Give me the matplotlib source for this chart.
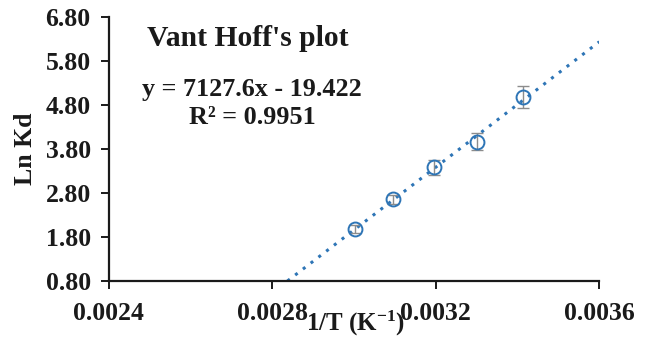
import matplotlib
matplotlib.use("Agg")
import matplotlib.pyplot as plt
import numpy as np

# Van 't Hoff data: inverse temperature vs. ln Kd
inv_T = [0.003003, 0.003096, 0.003195, 0.003300, 0.003413]
ln_kd = [1.98, 2.66, 3.38, 3.97, 4.99]
ln_kd_err = [0.09, 0.10, 0.16, 0.19, 0.25]

slope = 7127.6
intercept = -19.422
r_squared = 0.9951

x_ticks = [0.0024, 0.0028, 0.0032, 0.0036]
x_tick_labels = ["0.0024", "0.0028", "0.0032", "0.0036"]
y_ticks = [0.80, 1.80, 2.80, 3.80, 4.80, 5.80, 6.80]
y_tick_labels = ["0.80", "1.80", "2.80", "3.80", "4.80", "5.80", "6.80"]

plt.rcParams["font.family"] = ["Liberation Serif", "DejaVu Serif"]
plt.rcParams["font.weight"] = "bold"
plt.rcParams["mathtext.fontset"] = "custom"
plt.rcParams["mathtext.rm"] = "Liberation Serif:bold"
plt.rcParams["mathtext.it"] = "Liberation Serif:bold"
plt.rcParams["mathtext.bf"] = "Liberation Serif:bold"

W, H = 645, 340
fig = plt.figure(figsize=(W / 100, H / 100), dpi=100)
ax = fig.add_axes([108.7 / W, 59 / H, (599.3 - 108.7) / W, (281 - 17) / H])

blue = "#2E75B6"
ink = "#1a1a1a"

# Linear trendline
x_start = (y_ticks[0] - intercept) / slope
x_line = np.linspace(x_start, x_ticks[-1], 100)
ax.plot(x_line, slope * x_line + intercept, linestyle=(0, (1, 2.2)),
        color=blue, linewidth=2.2, zorder=2)

# Measurements with error bars
ax.errorbar(inv_T, ln_kd, yerr=ln_kd_err, fmt="none", ecolor="#8c8c8c",
            elinewidth=1.0, capsize=4, capthick=1.0, zorder=3)
ax.plot(inv_T, ln_kd, linestyle="none", marker="o", markersize=10,
        markerfacecolor="none", markeredgecolor=blue, markeredgewidth=1.4,
        zorder=4)

ax.set_xlim(x_ticks[0], x_ticks[-1])
ax.set_ylim(y_ticks[0], y_ticks[-1])
ax.set_xticks(x_ticks)
ax.set_xticklabels(x_tick_labels)
ax.set_yticks(y_ticks)
ax.set_yticklabels(y_tick_labels)

for side in ("top", "right"):
    ax.spines[side].set_visible(False)
for side in ("left", "bottom"):
    ax.spines[side].set_linewidth(1.6)
    ax.spines[side].set_color(ink)

ax.tick_params(axis="both", direction="out", length=6, width=1.4,
               labelsize=18.5, colors=ink)
ax.tick_params(axis="y", pad=7)
ax.tick_params(axis="x", pad=9)
for lab in ax.get_xticklabels() + ax.get_yticklabels():
    lab.set_fontweight("bold")

fig.text(25 / W, 1 - 149 / H, "Ln Kd", rotation=90, ha="center", va="center",
         fontsize=18.5, fontweight="bold", color=ink)
fig.text(355 / W, 1 - 323 / H, r"1/T (K$^{\mathbf{-1}}$)", ha="center",
         va="center", fontsize=18, fontweight="bold", color=ink)

fig.text(248 / W, 1 - 39 / H, "Vant Hoff's plot", ha="center", va="center",
         fontsize=21.3, fontweight="bold", color=ink)
fig.text(252 / W, 1 - 90 / H, f"y = {slope}x - {abs(intercept)}",
         ha="center", va="center", fontsize=18.8, fontweight="bold",
         color=ink)
fig.text(252 / W, 1 - 118 / H, f"R² = {r_squared}", ha="center",
         va="center", fontsize=18.8, fontweight="bold", color=ink)

fig.savefig("out.png", dpi=100)
